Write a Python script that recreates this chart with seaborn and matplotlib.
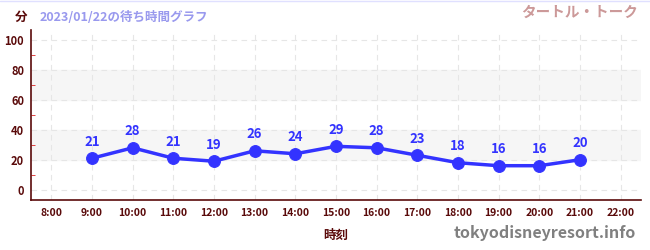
import matplotlib
matplotlib.use("Agg")
import matplotlib.pyplot as plt
import seaborn as sns
import pandas as pd
from matplotlib.ticker import MultipleLocator

# data
hours = [9, 10, 11, 12, 13, 14, 15, 16, 17, 18, 19, 20, 21]
waits = [21, 28, 21, 19, 26, 24, 29, 28, 23, 18, 16, 16, 20]
tick_hours = list(range(8, 23))
tick_labels = [f"{h}:00" for h in tick_hours]

df = pd.DataFrame({"hour": hours, "wait": waits})

sns.set_style("white")
plt.rcParams["font.family"] = ["Noto Sans CJK JP", "DejaVu Sans"]

maroon = "#5a0a0a"
blue = "#3333ff"

fig = plt.figure(figsize=(6.5, 2.5), dpi=100)
ax = fig.add_axes([31 / 650, 50 / 250, 610 / 650, 170 / 250])

# background bands
for lo, hi in [(20, 40), (60, 80)]:
    ax.axhspan(lo, hi, color="#f6f6f6", zorder=0)

sns.lineplot(data=df, x="hour", y="wait", ax=ax, color=blue, linewidth=2.5,
             marker="o", markersize=8.5, markeredgecolor=blue, zorder=3)

for h, w in zip(hours, waits):
    ax.annotate(str(w), (h, w), xytext=(0, 7), textcoords="offset points",
                ha="center", va="bottom", color=blue, fontsize=9.5,
                fontweight="bold")

ax.set_xlim(7.5, 22.5)
ax.set_ylim(-7, 107)
ax.set_xticks(tick_hours)
ax.set_xticklabels(tick_labels)
ax.set_yticks([0, 20, 40, 60, 80, 100])
ax.yaxis.set_minor_locator(MultipleLocator(10))

ax.grid(True, which="major", color="#e6e6e6", linestyle=(0, (5, 4)), linewidth=0.8)
ax.set_axisbelow(True)

for s in ["top", "right"]:
    ax.spines[s].set_visible(False)
for s in ["left", "bottom"]:
    ax.spines[s].set_color(maroon)
    ax.spines[s].set_linewidth(1.2)

ax.tick_params(axis="x", which="major", direction="out", length=4, color="black",
               labelsize=7.5, labelcolor=maroon, pad=2)
ax.tick_params(axis="y", which="major", direction="inout", length=6, color="black",
               labelsize=8, labelcolor=maroon, pad=2)
ax.tick_params(axis="y", which="minor", direction="in", length=3, color="#dd2222", left=True)
for lab in ax.get_xticklabels() + ax.get_yticklabels():
    lab.set_fontweight("bold")

ax.set_xlabel("時刻", color=maroon, fontsize=9, fontweight="bold", labelpad=8)
ax.set_ylabel("")

fig.text(15 / 650, 1 - 17 / 250, "分", color=maroon, fontsize=9, fontweight="bold",
         ha="left", va="center")
fig.text(40 / 650, 1 - 17 / 250, "2023/01/22の待ち時間グラフ", color="#9999ee",
         fontsize=9, fontweight="bold", ha="left", va="center")
fig.text(638 / 650, 1 - 12 / 250, "タートル・トーク", color="#cc9999",
         fontsize=10.5, fontweight="bold", ha="right", va="center")
fig.text(636 / 650, 1 - 233 / 250, "tokyodisneyresort.info", color="#808080",
         fontsize=11.5, fontweight="bold", ha="right", va="center")

fig.add_artist(plt.Line2D([0, 1], [0.998, 0.998], color="#e0e0ff", linewidth=1))

fig.savefig("out.png", dpi=100)
